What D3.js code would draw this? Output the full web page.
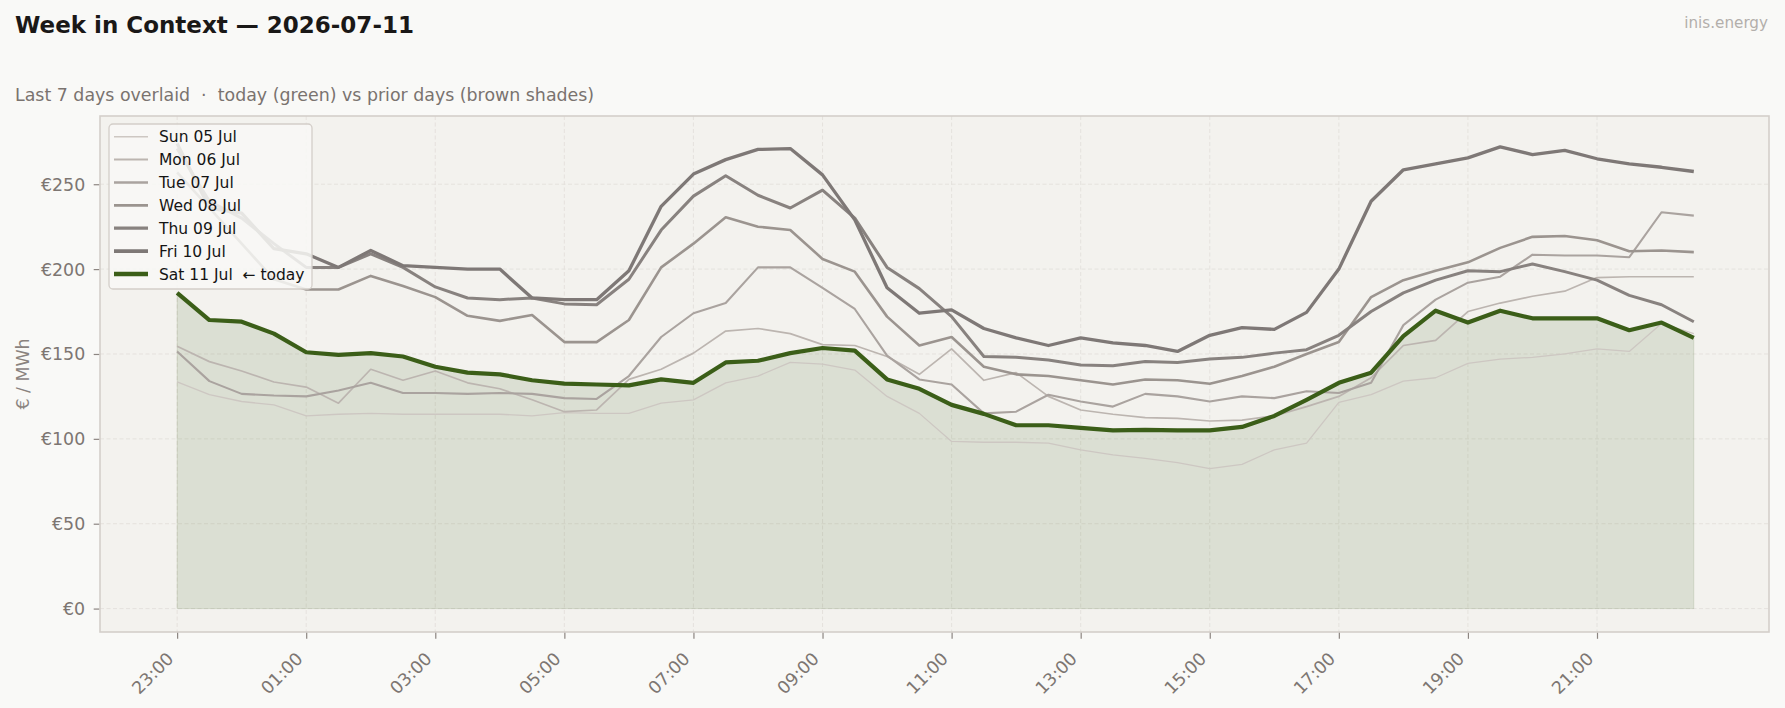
<!DOCTYPE html>
<html><head><meta charset="utf-8">
<script src="https://cdn.jsdelivr.net/npm/d3@7"></script>
<style>
body{margin:0;background:#f9f9f7;}
svg{display:block;font-family:"DejaVu Sans",sans-serif;}
</style>
</head><body>
<svg id="chart" width="1785" height="708"></svg>
<script>
// ---- data ----
const slots = ["23:00","23:30","00:00","00:30","01:00","01:30","02:00","02:30","03:00","03:30","04:00","04:30",
  "05:00","05:30","06:00","06:30","07:00","07:30","08:00","08:30","09:00","09:30","10:00","10:30",
  "11:00","11:30","12:00","12:30","13:00","13:30","14:00","14:30","15:00","15:30","16:00","16:30",
  "17:00","17:30","18:00","18:30","19:00","19:30","20:00","20:30","21:00","21:30","22:00","22:30"];
const xTickIdx = [0,4,8,12,16,20,24,28,32,36,40,44];
const yTicks = [0,50,100,150,200,250];
const dayLabels = ["Sun 05 Jul","Mon 06 Jul","Tue 07 Jul","Wed 08 Jul","Thu 09 Jul","Fri 10 Jul","Sat 11 Jul  \u2190 today"];

const sun05 = [133.5,126,122,120,113.5,114.5,115,114.5,114.5,114.5,114.5,113.5,115.5,115,115,121,123,133,137,145,144,140.5,125,115,
  98.5,98,98,97.5,93.5,90.5,88.5,86,82.5,85,93.5,97.5,121.5,126,134,136,144.5,147,148,150,153,151.5,168,162];
const mon06 = [154.5,145.5,140,133.5,130.5,121,141,134.5,140,133,129.5,123,116,117,135,141,150.5,163.5,165,162,155.5,155,148.5,138,
  153,134.5,139,125,117,114.5,112.5,112,110.5,111,113.5,119,125,136,155,158,175,180,184,187,195,195.5,195.5,195.5];
const tue07 = [151.5,134,126.5,125.5,125,128.5,133,127,127,126.5,127,126.5,124,123.5,137,160,174,180,201,201,189,176.5,149,135,
  132,115,116,126,122,119,126.5,125,122,125,124,128,127,133,167,182,192,195.5,208.5,208,208,207,233.5,231.5];
const wed08 = [257,236,215,194,188,188,196,190,183.5,172.5,169.5,173,157,157,170,201,215,230.5,225,223,206,198.5,172,155,
  160,142.5,138,137,134.5,132,135,134.5,132.5,137,142.5,150,157,183.5,193.5,199,204,212.5,219,219.5,217,210.5,211,210];
const thu09 = [271,240,230,215,201,201,209,201,189.5,183,182,183,179.5,179,194,223,243,255,243.5,236,246.5,230,201,188.5,
  172,148.5,148,146.5,143.5,143,145.5,145,147,148,150.5,152.5,161,175,186,193.5,199,198.5,203,198.5,193.5,184.5,179,169];
const fri10 = [274,236,233,212,209,201,211,202,201,200,200,183,182,182,199,237,256,264.5,270.5,271,255.5,229,189,174,
  176,165,159.5,155,159.5,156.5,155,151.5,161,165.5,164.5,174.5,200,240,258.5,262,265.5,272,267.5,270,265,262,260,257.5];
const sat11 = [186,170,169,162,151,149.5,150.5,148.5,142.5,139,138,134.5,132.5,132,131.5,135,133,145,146,150.5,153.5,152,135,129.5,
  120,114.7,108,108,106.5,105,105.3,105,105,107,113.5,123,133,139,160.5,175.5,168.5,175.5,171,171,171,164,168.5,159.5];

const seriesValues = [sun05, mon06, tue07, wed08, thu09, fri10, sat11];
const colors = ["#cdc7c2","#bcb5b0","#aaa39f","#9b948f","#88827f","#7e7876","#3b5e18"];
const widths = [1.3,1.7,2.1,2.6,3.0,3.3,4.2];

// ---- layout ----
const svg = d3.select("#chart");
const L = 100, R = 1769, T = 116, B = 632;
const x = d3.scaleLinear().domain([-2.39, 49.33]).range([L, R]);
const y = d3.scaleLinear().domain([-13.8, 290.2]).range([B, T]);

svg.append("rect").attr("width",1785).attr("height",708).attr("fill","#f9f9f7");

// titles
svg.append("text").attr("x",15).attr("y",33).attr("font-size",23).attr("font-weight","bold")
  .attr("fill","#1a1817").text("Week in Context \u2014 2026-07-11");
svg.append("text").attr("x",15).attr("y",100.5).attr("font-size",17.4).attr("fill","#7a736f")
  .style("white-space","pre").text("Last 7 days overlaid  \u00b7  today (green) vs prior days (brown shades)");
svg.append("text").attr("x",1768).attr("y",28).attr("font-size",15.2).attr("fill","#b3afab")
  .attr("text-anchor","end").text("inis.energy");

// plot background
svg.append("rect").attr("x",L).attr("y",T).attr("width",R-L).attr("height",B-T).attr("fill","#f3f2ee");

// grid
const grid = svg.append("g").attr("stroke","#e3e0db").attr("stroke-width",0.9).attr("stroke-dasharray","4,2.5");
grid.selectAll("line.h").data(yTicks).join("line").attr("x1",L).attr("x2",R)
  .attr("y1",d=>y(d)).attr("y2",d=>y(d));
grid.selectAll("line.v").data(xTickIdx).join("line").attr("y1",T).attr("y2",B)
  .attr("x1",d=>x(d)).attr("x2",d=>x(d));

// area under today
const area = d3.area().x((d,i)=>x(i)).y0(y(0)).y1(d=>y(d));
svg.append("path").datum(sat11).attr("d",area)
  .attr("fill","rgba(59,94,24,0.125)").attr("stroke","rgba(59,94,24,0.12)").attr("stroke-width",1);

// lines
const line = d3.line().x((d,i)=>x(i)).y(d=>y(d));
seriesValues.forEach((vals,k)=>{
  svg.append("path").datum(vals).attr("d",line).attr("fill","none")
    .attr("stroke",colors[k]).attr("stroke-width",widths[k])
    .attr("stroke-linejoin","round").attr("stroke-linecap","butt");
});

// frame
svg.append("rect").attr("x",L).attr("y",T).attr("width",R-L).attr("height",B-T)
  .attr("fill","none").attr("stroke","#d4cfca").attr("stroke-width",1.6);

// y axis
const yAxis = d3.axisLeft(y).tickValues(yTicks).tickFormat(d=>"\u20ac"+d).tickSize(5.5).tickPadding(8);
const gy = svg.append("g").attr("transform",`translate(${L-0.8},0)`).call(yAxis);
gy.select(".domain").remove();
gy.selectAll(".tick line").attr("stroke","#8c8581").attr("stroke-width",1.2);
gy.selectAll(".tick text").attr("font-size",17.4).attr("fill","#7d7672")
  .attr("font-family","DejaVu Sans").attr("x",-14).attr("dy","0.34em");

// x axis
const xAxis = d3.axisBottom(x).tickValues(xTickIdx).tickFormat(i=>slots[i]).tickSize(6);
const gx = svg.append("g").attr("transform",`translate(0,${B+0.8})`).call(xAxis);
gx.select(".domain").remove();
gx.selectAll(".tick line").attr("stroke","#8c8581").attr("stroke-width",1.2);
gx.selectAll(".tick text").attr("font-size",17.4).attr("fill","#7d7672").attr("font-family","DejaVu Sans")
  .attr("text-anchor","end").attr("dy",null).attr("y",null)
  .attr("transform","translate(-3,27) rotate(-45)");

// y label
svg.append("text").attr("transform","translate(29,374) rotate(-90)").attr("text-anchor","middle")
  .attr("font-size",17.4).attr("fill","#8a837f").text("\u20ac / MWh");

// legend
const lg = svg.append("g");
lg.append("rect").attr("x",109).attr("y",124).attr("width",203).attr("height",165).attr("rx",4)
  .attr("fill","#f8f8f6").attr("fill-opacity",0.85).attr("stroke","#d3cec9").attr("stroke-width",1.3);
dayLabels.forEach((lab,k)=>{
  const cy = 136.7 + k*22.88;
  lg.append("line").attr("x1",114).attr("x2",148).attr("y1",cy).attr("y2",cy)
    .attr("stroke",colors[k]).attr("stroke-width",widths[k]+0.3);
  lg.append("text").attr("x",159).attr("y",cy).attr("dy","0.36em").attr("font-size",15.5)
    .attr("fill","#141414").style("white-space","pre").text(lab);
});
</script>
</body></html>
